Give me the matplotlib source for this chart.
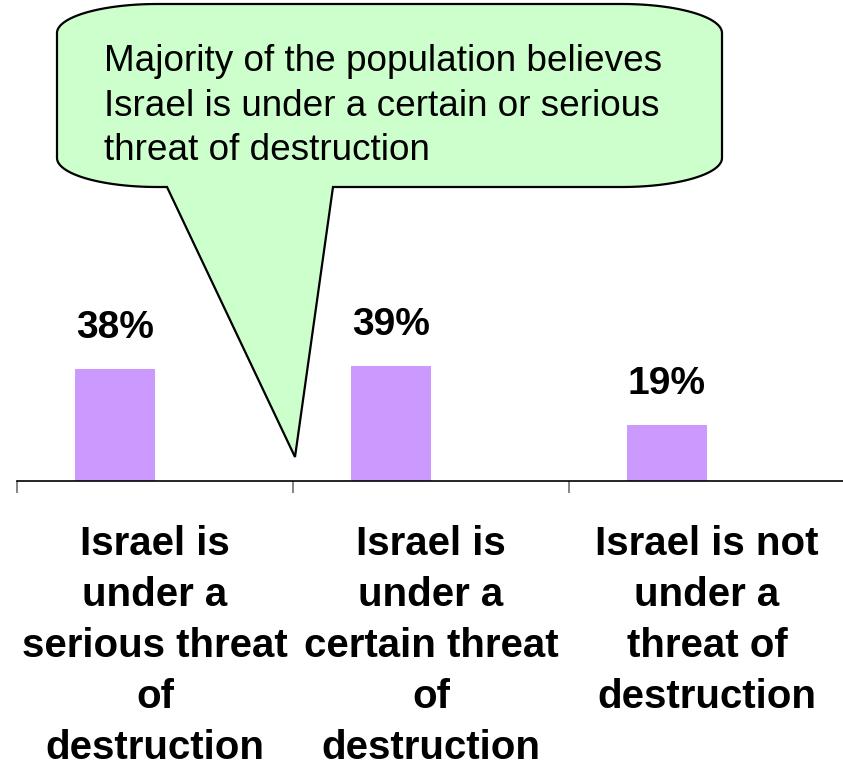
import numpy as np
import matplotlib
matplotlib.use('Agg')
import matplotlib.pyplot as plt
from matplotlib.path import Path
from matplotlib.patches import PathPatch

plt.rcParams['font.family'] = ['Liberation Sans', 'DejaVu Sans']

# Data
categories = [
    'Israel is\nunder a\nserious threat\nof\ndestruction',
    'Israel is\nunder a\ncertain threat\nof\ndestruction',
    'Israel is not\nunder a\nthreat of\ndestruction',
]
values = [38, 39, 19]
value_labels = ['38%', '39%', '19%']
callout_text = ('Majority of the population believes\n'
                'Israel is under a certain or serious\n'
                'threat of destruction')

W, H = 843, 767
fig = plt.figure(figsize=(W / 100, H / 100), dpi=100)

# main chart axes, baseline at y=481 px, categories 276 px wide
ax = fig.add_axes([17 / W, (H - 481) / H, 828 / W, 295 / H])
ax.set_xlim(0, 3)
ax.set_ylim(0, 100)

x = np.arange(len(categories)) + 0.5
bar_w = 80 / 276
offset = -40 / 276  # bar sits left of the category centre (empty 2nd series)
bars = ax.bar(x + offset, values, bar_w, color='#CC99FF', zorder=2)

for bar, lab in zip(bars, value_labels):
    ax.annotate(lab, xy=(bar.get_x() + bar.get_width() / 2, bar.get_height()),
                xytext=(0, 22.5), textcoords='offset points',
                ha='center', va='baseline', fontsize=28, fontweight='bold')

for s in ['left', 'right', 'top']:
    ax.spines[s].set_visible(False)
ax.spines['bottom'].set_color('black')
ax.spines['bottom'].set_linewidth(1.2)
ax.yaxis.set_visible(False)

ax.set_xticks([0, 1, 2, 3])
ax.set_xticklabels([])
ax.tick_params(axis='x', which='major', length=8.6, width=1.2, color='#707070', direction='out')
ax.set_xticks(x, minor=True)
ax.set_xticklabels(categories, minor=True, fontsize=29, fontweight='bold', linespacing=1.43)
ax.tick_params(axis='x', which='minor', length=0, pad=32)

# callout overlay in pixel coordinates
ov = fig.add_axes([0, 0, 1, 1], zorder=5)
ov.set_xlim(0, W)
ov.set_ylim(H, 0)
ov.axis('off')
ov.patch.set_alpha(0)

x0, x1, y0, y1 = 57, 722, 4, 187
rx, ry = 100, 29
tail_l, tail_r, tip = 167, 333, (295, 457)


def arc(cx, cy, a0, a1):
    t = np.radians(np.linspace(a0, a1, 30))
    return list(zip(cx + rx * np.cos(t), cy + ry * np.sin(t)))


pts = []
pts += arc(x0 + rx, y0 + ry, 180, 270)          # top-left
pts += arc(x1 - rx, y0 + ry, 270, 360)          # top-right
pts += arc(x1 - rx, y1 - ry, 0, 90)             # bottom-right
pts += [(tail_r, y1), tip, (tail_l, y1)]
pts += arc(x0 + rx, y1 - ry, 90, 180)           # bottom-left
pts.append(pts[0])
path = Path(pts, closed=True)
ov.add_patch(PathPatch(path, facecolor='#CCFFCC', edgecolor='black', linewidth=1.6, joinstyle='miter'))

ov.text(104, 44, callout_text, ha='left', va='top', fontsize=26.6, linespacing=1.355)

fig.savefig('out.png', dpi=100)
